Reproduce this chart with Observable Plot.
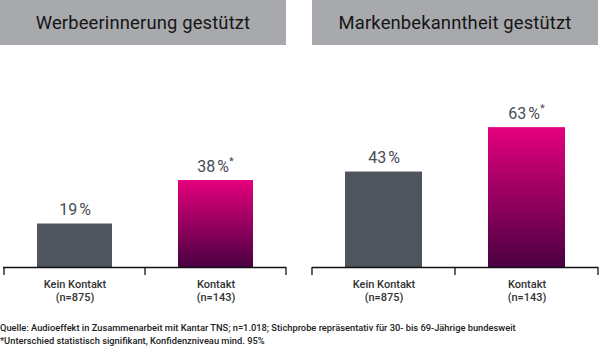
<!DOCTYPE html>
<html><head><meta charset="utf-8">
<script src="https://cdn.jsdelivr.net/npm/d3@7"></script>
<script src="https://cdn.jsdelivr.net/npm/@observablehq/plot@0.6"></script>
<style>
html,body{margin:0;padding:0;background:#fff}
body{width:600px;height:351px;overflow:hidden;font-family:Roboto,"Liberation Sans",sans-serif}
#wrap{position:relative;width:600px;height:351px}
.title{position:absolute;top:0;height:45px;background:#a7a9ac;display:flex;align-items:center;justify-content:center;font-size:18.4px;color:#161616;letter-spacing:0.15px}
.panel{position:absolute;top:45px}
#caption{position:absolute;left:0;top:321px;font-size:9.3px;font-weight:500;line-height:13px;color:#222;white-space:nowrap}
</style>
</head><body>
<div id="wrap"></div>
<script>
const panelTitles = ["Werbeerinnerung gestützt", "Markenbekanntheit gestützt"];
const categories = ["Kein Kontakt\n(n=875)", "Kontakt\n(n=143)"];
const werbeValues = [19, 38];
const markenValues = [43, 63];
const significant = [false, true];
const captionLines = [
  "Quelle: Audioeffekt in Zusammenarbeit mit Kantar TNS; n=1.018; Stichprobe repräsentativ für 30- bis 69-Jährige bundesweit",
  "*Unterschied statistisch signifikant, Konfidenzniveau mind. 95%"
];

const wrap = document.getElementById("wrap");

function makePanel(values, yMax, mL, mR) {
  const data = categories.map((c, i) => ({
    cat: c, value: values[i], sig: significant[i],
    label: values[i] + "\u202F%"
  }));
  const plain = data.filter(d => !d.sig), sig = data.filter(d => d.sig);
  const svg = Plot.plot({
    width: 300, height: 265,
    marginTop: 0, marginBottom: 43, marginLeft: mL, marginRight: mR,
    x: {domain: categories, padding: 0, axis: null},
    y: {domain: [0, yMax], axis: null},
    style: {fontFamily: "Roboto, sans-serif", background: "transparent", overflow: "visible"},
    marks: [
      Plot.barY(plain, {x: "cat", y: "value", insetLeft: 33, insetRight: 33, fill: "#4e555d"}),
      Plot.barY(sig, {x: "cat", y: "value", insetLeft: 33, insetRight: 33, fill: "url(#gradPink)"}),
      Plot.ruleY([0], {stroke: "#111", strokeWidth: 1.3}),
      (index, scales) => {
        const x = scales.x, y = scales.y;
        const bw = x.bandwidth();
        const edges = [x(categories[0]), ...categories.map(c => x(c) + bw)];
        const g = d3.create("svg:g");
        g.selectAll("line").data(edges).join("line")
          .attr("x1", d => d).attr("x2", d => d)
          .attr("y1", y(0)).attr("y2", y(0) + 8)
          .attr("stroke", "#111").attr("stroke-width", 1.3);
        return g.node();
      },
      Plot.text(plain, {x: "cat", y: "value", text: "label", dy: -14, fontSize: 16, fill: "#474d54"}),
      Plot.text(sig, {x: "cat", y: "value", text: "label", dx: -3, dy: -14, fontSize: 16, fill: "#474d54"}),
      Plot.text(sig, {x: "cat", y: "value", text: () => "*", dx: 13, dy: -19, textAnchor: "start", fontSize: 11, fill: "#474d54"}),
      Plot.text(data, {x: "cat", y: 0, text: "cat", lineAnchor: "top", dy: 12, lineHeight: 1.12, fontSize: 11, fontWeight: 500, fill: "#333"})
    ]
  });
  return svg;
}

function addPanel(left, boxLeft, boxWidth, title, values, yMax, mL, mR) {
  const t = document.createElement("div");
  t.className = "title";
  t.style.left = boxLeft + "px";
  t.style.width = boxWidth + "px";
  t.textContent = title;
  wrap.appendChild(t);
  const p = document.createElement("div");
  p.className = "panel";
  p.style.left = left + "px";
  p.appendChild(makePanel(values, yMax, mL, mR));
  wrap.appendChild(p);
}

addPanel(0, 0, 286, panelTitles[0], werbeValues, 97, 3, 14);
addPanel(300, 312, 286, panelTitles[1], markenValues, 100, 12, 2);

// gradient definition used by the highlighted bars
const defsSvg = d3.select(wrap).append("svg").attr("width", 0).attr("height", 0).style("position", "absolute");
const grad = defsSvg.append("defs").append("linearGradient").attr("id", "gradPink")
  .attr("x1", 0).attr("y1", 0).attr("x2", 0).attr("y2", 1);
grad.append("stop").attr("offset", "0%").attr("stop-color", "#e4007c");
grad.append("stop").attr("offset", "100%").attr("stop-color", "#4a0042");

const cap = document.createElement("div");
cap.id = "caption";
cap.innerHTML = captionLines.map(s => s.replace(/&/g, "&amp;").replace(/</g, "&lt;")).join("<br>");
wrap.appendChild(cap);
</script>
</body></html>
